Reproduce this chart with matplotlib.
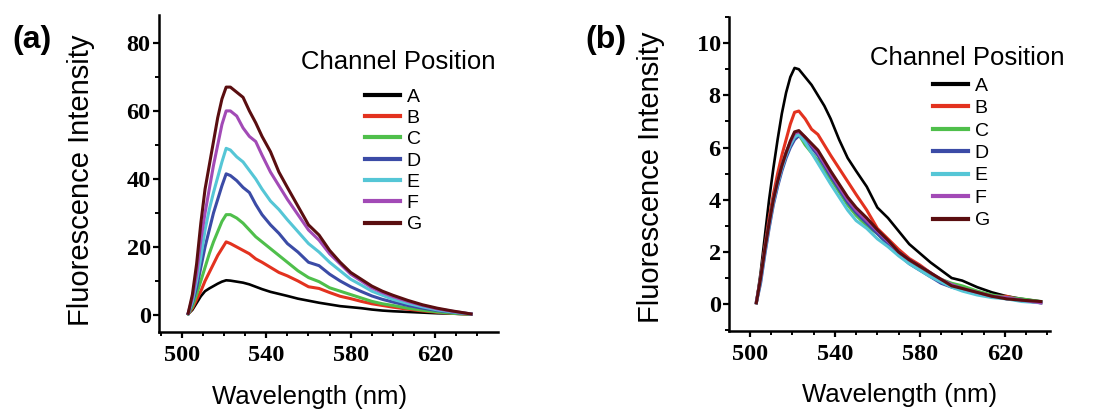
import matplotlib
matplotlib.use("Agg")
import matplotlib.pyplot as plt
from matplotlib.ticker import MultipleLocator

wavelength = [503, 505, 507, 509, 511, 513, 515, 517, 519, 521, 523, 526, 529, 532, 535,
              538, 542, 546, 550, 555, 560, 565, 570, 575, 580, 585, 590, 595, 600, 607,
              614, 621, 628, 637]
x_ticks = [500, 540, 580, 620]

channels = ["A", "B", "C", "D", "E", "F", "G"]
colors = ["#000000", "#e3321f", "#4fbf4b", "#3b4ba6", "#55c6d6", "#a24ab6", "#5a0e10"]

# panel (a)
a_A = [0.3, 1.5, 3.5, 5.5, 7.0, 7.8, 8.5, 9.2, 9.8, 10.2, 10.1, 9.8, 9.5, 9.0, 8.3,
       7.6, 6.8, 6.2, 5.6, 4.8, 4.2, 3.6, 3.1, 2.6, 2.3, 2.0, 1.6, 1.3, 1.1, 0.9,
       0.7, 0.5, 0.4, 0.2]
a_B = [0.3, 2.0, 4.5, 7.0, 10.0, 12.5, 15.0, 17.5, 19.5, 21.5, 21.0, 20.0, 19.0, 18.0, 16.5,
       15.5, 14.0, 12.5, 11.5, 10.0, 8.3, 7.8, 6.6, 5.5, 4.8, 4.0, 3.3, 2.8, 2.3, 1.7,
       1.2, 0.8, 0.5, 0.2]
a_C = [0.3, 2.5, 6.0, 10.0, 14.0, 18.0, 21.5, 24.5, 27.5, 29.5, 29.5, 28.5, 27.0, 25.0, 23.0,
       21.5, 19.5, 17.5, 15.5, 13.0, 11.0, 9.8, 8.0, 7.0, 6.0, 5.0, 4.0, 3.3, 2.8, 2.0,
       1.4, 0.9, 0.5, 0.2]
a_D = [0.4, 3.5, 8.0, 14.0, 20.0, 25.0, 30.0, 34.0, 38.0, 41.5, 41.0, 39.5, 37.5, 36.0, 32.5,
       29.5, 26.5, 24.0, 21.0, 18.5, 15.5, 14.5, 12.0, 10.0, 8.3, 6.9, 5.6, 4.6, 3.8, 2.8,
       2.0, 1.3, 0.8, 0.3]
a_E = [0.4, 4.0, 10.0, 17.0, 25.0, 31.0, 36.0, 40.5, 45.0, 49.0, 48.5, 46.5, 45.0, 42.5, 40.0,
       37.0, 33.5, 31.0, 28.0, 24.5, 21.0, 18.5, 15.5, 13.0, 10.5, 8.8, 7.0, 5.8, 4.6, 3.4,
       2.4, 1.5, 0.9, 0.3]
a_F = [0.5, 5.0, 12.0, 22.0, 30.0, 37.0, 44.0, 50.0, 56.0, 60.0, 60.0, 58.5, 55.0, 52.5, 51.0,
       47.0, 42.0, 38.0, 34.0, 29.5, 25.0, 22.0, 18.0, 15.0, 12.0, 10.0, 8.0, 6.6, 5.4, 4.0,
       2.8, 1.8, 1.1, 0.3]
a_G = [0.5, 6.0, 15.0, 27.0, 37.0, 44.0, 51.0, 58.0, 63.5, 67.0, 67.0, 65.5, 64.0, 60.0, 56.5,
       52.5, 48.0, 42.0, 37.5, 32.0, 26.5, 23.5, 19.0, 15.5, 12.5, 10.5, 8.5, 7.0, 5.8, 4.3,
       3.0, 2.0, 1.2, 0.3]

# panel (b)
b_A = [0.05, 1.2, 2.6, 4.0, 5.2, 6.3, 7.3, 8.1, 8.7, 9.05, 9.0, 8.7, 8.4, 8.0, 7.6,
       7.1, 6.3, 5.6, 5.1, 4.5, 3.7, 3.3, 2.8, 2.3, 1.95, 1.6, 1.3, 1.0, 0.9, 0.65,
       0.45, 0.3, 0.2, 0.1]
b_B = [0.05, 1.0, 2.2, 3.3, 4.2, 5.0, 5.7, 6.3, 6.9, 7.35, 7.4, 7.1, 6.7, 6.5, 6.1,
       5.7, 5.2, 4.7, 4.2, 3.6, 2.9, 2.5, 2.1, 1.75, 1.5, 1.2, 0.9, 0.7, 0.6, 0.45,
       0.3, 0.3, 0.15, 0.05]
b_C = [0.1, 1.0, 2.1, 3.1, 4.0, 4.7, 5.3, 5.8, 6.2, 6.5, 6.5, 6.1, 5.8, 5.5, 5.1,
       4.8, 4.3, 3.8, 3.4, 3.0, 2.7, 2.3, 1.9, 1.6, 1.4, 1.15, 0.95, 0.8, 0.7, 0.5,
       0.35, 0.25, 0.2, 0.1]
b_D = [0.05, 0.8, 1.9, 2.9, 3.8, 4.5, 5.1, 5.6, 6.0, 6.3, 6.45, 6.3, 6.0, 5.7, 5.3,
       4.9, 4.4, 3.9, 3.5, 3.1, 2.7, 2.3, 1.9, 1.55, 1.3, 1.05, 0.8, 0.65, 0.55, 0.4,
       0.3, 0.2, 0.15, 0.05]
b_E = [0.05, 0.9, 2.0, 3.0, 3.9, 4.6, 5.2, 5.7, 6.1, 6.4, 6.5, 6.2, 5.8, 5.4, 5.0,
       4.6, 4.1, 3.6, 3.2, 2.9, 2.5, 2.2, 1.85, 1.55, 1.3, 1.05, 0.85, 0.65, 0.5, 0.35,
       0.25, 0.2, 0.1, 0.05]
b_F = [0.1, 1.0, 2.1, 3.1, 4.0, 4.7, 5.3, 5.8, 6.2, 6.55, 6.6, 6.4, 6.1, 5.8, 5.4,
       5.0, 4.5, 4.0, 3.6, 3.2, 2.8, 2.4, 2.0, 1.7, 1.45, 1.2, 0.95, 0.75, 0.6, 0.45,
       0.3, 0.25, 0.15, 0.05]
b_G = [0.05, 1.0, 2.1, 3.1, 4.0, 4.7, 5.3, 5.8, 6.25, 6.6, 6.65, 6.4, 6.15, 5.9, 5.5,
       5.1, 4.6, 4.1, 3.7, 3.3, 2.85, 2.45, 2.0, 1.7, 1.45, 1.2, 0.95, 0.7, 0.6, 0.45,
       0.3, 0.2, 0.15, 0.1]

SANS = "Liberation Sans"
SERIF = "Liberation Serif"
W, H = 1099, 412

fig = plt.figure(figsize=(10.99, 4.12), dpi=100)
ax_a = fig.add_axes([0.1447, 0.1942, 0.3085, 0.7694])
ax_b = fig.add_axes([0.6633, 0.1966, 0.2921, 0.7620])


def style_axis(ax, xlim, ylim, ymajor, yminor, label_x, ylabel_x, ylabel_y):
    ax.set_xlim(*xlim)
    ax.set_ylim(*ylim)
    for side in ("top", "right"):
        ax.spines[side].set_visible(False)
    for side in ("left", "bottom"):
        ax.spines[side].set_linewidth(1.8)
    ax.set_xticks(x_ticks)
    ax.xaxis.set_minor_locator(MultipleLocator(10))
    ax.yaxis.set_major_locator(MultipleLocator(ymajor))
    ax.yaxis.set_minor_locator(MultipleLocator(yminor))
    ax.tick_params(which="major", direction="out", length=4.5, width=1.6)
    ax.tick_params(which="minor", direction="out", length=3, width=1.4)
    ax.tick_params(axis="y", which="major", pad=1.5)
    ax.tick_params(axis="x", which="major", pad=5)
    for lbl in ax.get_xticklabels() + ax.get_yticklabels():
        lbl.set_fontfamily(SERIF)
        lbl.set_fontweight("bold")
        lbl.set_fontsize(17.5)
    ax.set_xlabel("Wavelength (nm)", fontfamily=SANS, fontsize=18.5)
    ax.set_ylabel("Fluorescence Intensity", fontfamily=SANS, fontsize=21)
    ax.xaxis.label.set_va("center")
    ax.xaxis.set_label_coords(label_x, -0.205)
    ax.yaxis.set_label_coords(ylabel_x, ylabel_y)


series_a = [a_A, a_B, a_C, a_D, a_E, a_F, a_G]
series_b = [b_A, b_B, b_C, b_D, b_E, b_F, b_G]

for name, col, ya, yb in zip(channels, colors, series_a, series_b):
    lw = 1.9 if name == "A" else 2.2
    ax_a.plot(wavelength, ya, color=col, lw=lw, label=name)
    ax_b.plot(wavelength, yb, color=col, lw=lw, label=name)

style_axis(ax_a, (489.2, 649.8), (-5.0, 88.2), 20, 10, 0.445, -0.189, 0.48)
style_axis(ax_b, (490.1, 641.3), (-1.03, 11.0), 2, 1, 0.53, -0.20, 0.49)

# legends: title as separate text, entries below
fig.text(398 / W, 1 - 62 / H, "Channel Position", fontfamily=SANS, fontsize=18.5,
         ha="center", va="center")
fig.text(967 / W, 1 - 58 / H, "Channel Position", fontfamily=SANS, fontsize=18.5,
         ha="center", va="center")

leg_kw = dict(frameon=False, handlelength=1.8, handletextpad=0.35, borderpad=0,
              borderaxespad=0, loc="upper left", bbox_transform=fig.transFigure)
leg_a = ax_a.legend(bbox_to_anchor=(365 / W, 1 - 88 / H), labelspacing=0.19,
                    prop={"family": SANS, "size": 14}, **leg_kw)
leg_b = ax_b.legend(bbox_to_anchor=(933 / W, 1 - 77 / H), labelspacing=0.25,
                    prop={"family": SANS, "size": 14}, **leg_kw)
for leg in (leg_a, leg_b):
    for line in leg.get_lines():
        line.set_linewidth(3)

fig.text(32 / W, 1 - 40 / H, "(a)", fontfamily=SANS, fontweight="bold", fontsize=23,
         ha="center", va="center")
fig.text(606 / W, 1 - 40 / H, "(b)", fontfamily=SANS, fontweight="bold", fontsize=23,
         ha="center", va="center")

fig.savefig("out.png", dpi=100)
